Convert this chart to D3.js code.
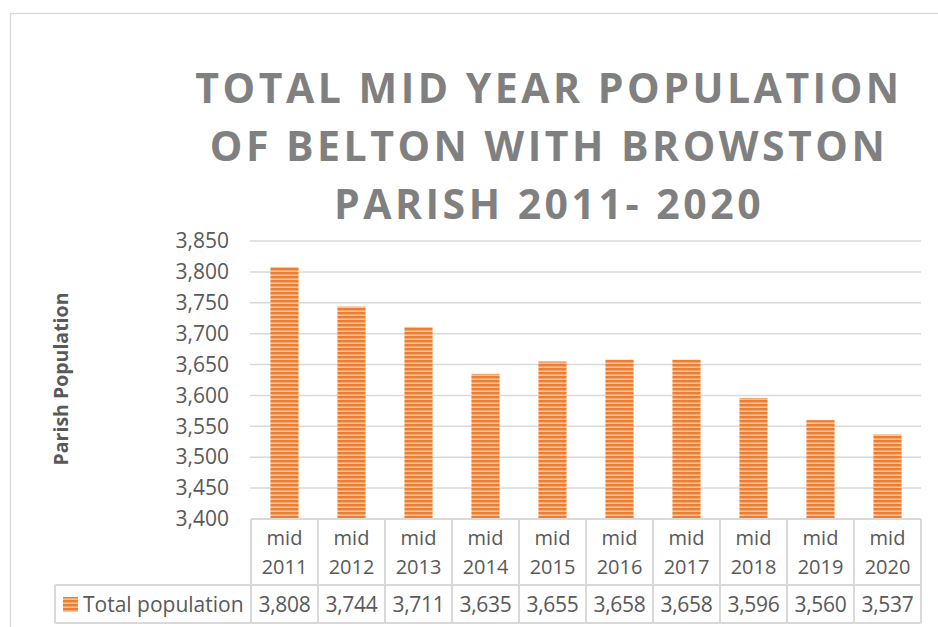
<!DOCTYPE html>
<html>
<head>
<meta charset="utf-8">
<script src="https://cdn.jsdelivr.net/npm/d3@7"></script>
<style>
  body { margin: 0; background: #fff; }
  svg { display: block; font-family: "Open Sans", sans-serif; }
</style>
</head>
<body>
<div class="svg-container"></div>
<script>
// data
const categories = ["2011", "2012", "2013", "2014", "2015", "2016", "2017", "2018", "2019", "2020"];
const population = [3808, 3744, 3711, 3635, 3655, 3658, 3658, 3596, 3560, 3537];
const yTicks = [3400, 3450, 3500, 3550, 3600, 3650, 3700, 3750, 3800, 3850];
const titleLines = ["TOTAL MID YEAR POPULATION", "OF BELTON WITH BROWSTON", "PARISH 2011- 2020"];
const seriesName = "Total population";

let width = 938, height = 627;
let plot = {left: 251, right: 921, top: 241, bottom: 519};
let gridColor = "#d9d9d9";
let textColor = "#595959";

let svg = d3.select('.svg-container').append("svg")
    .attr('width', width).attr('height', height);

// stripe pattern for bars
let defs = svg.append("defs");
let pat = defs.append("pattern")
    .attr("id", "stripes")
    .attr("patternUnits", "userSpaceOnUse")
    .attr("width", 8).attr("height", 4);
pat.append("rect").attr("width", 8).attr("height", 4).attr("fill", "#f6c4a2");
pat.append("rect").attr("width", 8).attr("height", 2.4).attr("fill", "#ed7d31");

// chart frame
svg.append("rect")
    .attr("x", 10.5).attr("y", 13.5)
    .attr("width", 1000).attr("height", 700)
    .attr("fill", "none")
    .attr("stroke", gridColor)
    .attr("stroke-width", 1.3);

// title
let title = svg.append("g").attr("class", "title");
title.selectAll("text")
    .data(titleLines)
    .enter().append("text")
    .attr("x", 549)
    .attr("y", (d, i) => 103 + i * 58)
    .attr("text-anchor", "middle")
    .attr("font-size", 41)
    .attr("font-weight", "bold")
    .attr("letter-spacing", 3.5)
    .attr("fill", "#808080")
    .text(d => d);

let x = d3.scaleBand().domain(categories).range([plot.left, plot.right]).padding(0);
let y = d3.scaleLinear().domain([3400, 3850]).range([plot.bottom, plot.top]);
let barW = x.bandwidth() * 0.42;

// gridlines
svg.append("g")
    .attr("class", "grid")
    .selectAll("line")
    .data(yTicks.slice(1))
    .enter().append("line")
    .attr("x1", plot.left - 1).attr("x2", plot.right)
    .attr("y1", d => y(d)).attr("y2", d => y(d))
    .attr("stroke", gridColor)
    .attr("stroke-width", 1.5);

// y axis labels
let yAxis = d3.axisLeft(y).tickValues(yTicks).tickFormat(d3.format(",")).tickSize(0).tickPadding(0);
let yg = svg.append("g")
    .attr("transform", `translate(229,0)`)
    .call(yAxis);
yg.select(".domain").remove();
yg.selectAll("text")
    .attr("font-size", 21)
    .attr("font-family", "Open Sans, sans-serif")
    .attr("fill", textColor);

// axis title
svg.append("text")
    .attr("transform", "translate(68,379) rotate(-90)")
    .attr("text-anchor", "middle")
    .attr("font-size", 19.5)
    .attr("font-weight", "bold")
    .attr("fill", textColor)
    .text("Parish Population");

// bars
svg.append("g")
    .attr("class", "bars")
    .selectAll("rect")
    .data(population)
    .enter().append("rect")
    .attr("x", (d, i) => x(categories[i]) + (x.bandwidth() - barW) / 2)
    .attr("y", d => y(d))
    .attr("width", barW)
    .attr("height", d => y(3400) - y(d))
    .attr("fill", "url(#stripes)");

// data table
let rowMid = 585, rowBottom = 623, legendLeft = 55;
let table = svg.append("g").attr("class", "table")
    .attr("stroke", gridColor).attr("stroke-width", 2);
table.append("line").attr("x1", plot.left).attr("x2", plot.right).attr("y1", plot.bottom).attr("y2", plot.bottom);
table.append("line").attr("x1", legendLeft).attr("x2", plot.right).attr("y1", rowMid).attr("y2", rowMid);
table.append("line").attr("x1", legendLeft).attr("x2", plot.right).attr("y1", rowBottom).attr("y2", rowBottom);
table.append("line").attr("x1", legendLeft).attr("x2", legendLeft).attr("y1", rowMid).attr("y2", rowBottom);
table.selectAll("line.col")
    .data(categories.concat(["end"]))
    .enter().append("line")
    .attr("class", "col")
    .attr("x1", (d, i) => i < categories.length ? x(d) : plot.right)
    .attr("x2", (d, i) => i < categories.length ? x(d) : plot.right)
    .attr("y1", plot.bottom).attr("y2", rowBottom);

let cats = svg.append("g").attr("class", "cats")
    .selectAll("text")
    .data(categories)
    .enter().append("text")
    .attr("text-anchor", "middle")
    .attr("font-size", 20)
    .attr("fill", textColor);
cats.append("tspan")
    .attr("x", d => x(d) + x.bandwidth() / 2)
    .attr("y", 545)
    .text("mid");
cats.append("tspan")
    .attr("x", d => x(d) + x.bandwidth() / 2)
    .attr("y", 574)
    .text(d => d);

svg.append("g").attr("class", "values")
    .selectAll("text")
    .data(population)
    .enter().append("text")
    .attr("x", (d, i) => x(categories[i]) + x.bandwidth() / 2)
    .attr("y", 612)
    .attr("text-anchor", "middle")
    .attr("font-size", 21)
    .attr("letter-spacing", -0.3)
    .attr("fill", textColor)
    .text(d => d3.format(",")(d));

// legend key
svg.append("rect")
    .attr("x", 63).attr("y", 597)
    .attr("width", 15).attr("height", 15)
    .attr("fill", "url(#stripes)");
svg.append("text")
    .attr("x", 83).attr("y", 612)
    .attr("font-size", 21)
    .attr("fill", textColor)
    .text(seriesName);
</script>
</body>
</html>
